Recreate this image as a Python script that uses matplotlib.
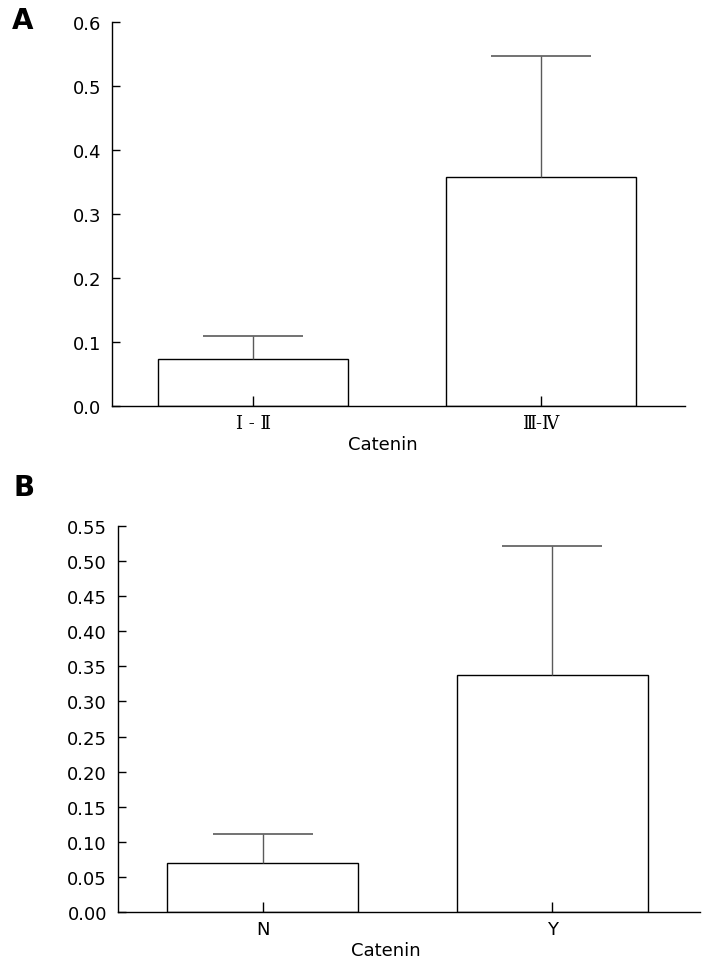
import numpy as np
import matplotlib
matplotlib.use('Agg')
import matplotlib.pyplot as plt

# Panel A: stage groups
stage_labels = ['Ⅰ - Ⅱ', 'Ⅲ-Ⅳ']
stage_means = [0.073, 0.358]
stage_sd = [0.036, 0.189]

# Panel B: N / Y groups
group_labels = ['N', 'Y']
group_means = [0.070, 0.338]
group_sd = [0.041, 0.183]

plt.rcParams['font.family'] = ['DejaVu Sans']

fig = plt.figure(figsize=(7.17, 9.79), dpi=100)
ax_a = fig.add_axes([112 / 717, 1 - 407 / 979, 573 / 717, 384 / 979])
ax_b = fig.add_axes([118 / 717, 1 - 913 / 979, 582 / 717, 386 / 979])


def draw_panel(ax, labels, means, sd, yticks, fmt, xlim, label_font, xlabel_x):
    x = np.arange(len(labels))
    ax.bar(x, means, width=0.66, color='white', edgecolor='black', linewidth=1.0, zorder=2)
    _, caps, _ = ax.errorbar(x, means, yerr=[np.zeros(len(sd)), sd], fmt='none',
                             ecolor='#5a5a5a', elinewidth=1.0, capsize=36, capthick=1.2,
                             zorder=3)
    # only the upper whisker is drawn
    caps[0].set_visible(False)
    # ticks sit on top of the bars (visible inside them)
    ax.set_axisbelow(False)
    for side in ['top', 'right']:
        ax.spines[side].set_visible(False)
    ax.spines['left'].set_linewidth(1.0)
    ax.spines['bottom'].set_linewidth(1.0)
    ax.set_xlim(*xlim)
    ax.set_ylim(yticks[0], yticks[-1])
    ax.set_yticks(yticks)
    ax.set_yticklabels([fmt % v for v in yticks], fontsize=13)
    ax.tick_params(axis='y', direction='in', length=6, width=1, pad=8)
    ax.set_xticks(x)
    ax.set_xticklabels(labels, **label_font)
    ax.tick_params(axis='x', direction='in', length=7, width=1, pad=6)
    ax.set_xlabel('Catenin', fontsize=13)
    ax.xaxis.set_label_coords(xlabel_x, -0.075)


draw_panel(ax_a, stage_labels, stage_means, stage_sd, np.round(np.arange(0, 0.61, 0.1), 2),
           '%.1f', (-0.49, 1.5),
           dict(fontsize=13, family=['DejaVu Serif', 'Noto Sans CJK SC', 'DejaVu Sans']), 0.473)
draw_panel(ax_b, group_labels, group_means, group_sd, np.round(np.arange(0, 0.551, 0.05), 2),
           '%.2f', (-0.50, 1.51), dict(fontsize=13), 0.46)

fig.text(23 / 717, 1 - 21 / 979, 'A', fontsize=20, fontweight='bold', ha='center', va='center')
fig.text(24 / 717, 1 - 488 / 979, 'B', fontsize=20, fontweight='bold', ha='center', va='center')

fig.savefig('out.png', dpi=100)
